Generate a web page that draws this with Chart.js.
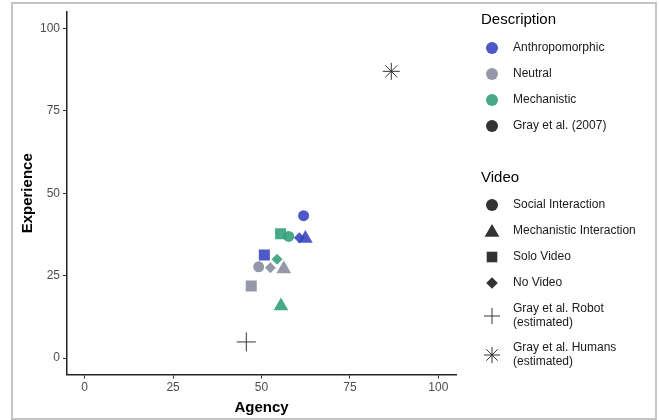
<!DOCTYPE html>
<html>
<head>
<meta charset="utf-8">
<script src="https://cdn.jsdelivr.net/npm/chart.js@4.4.1/dist/chart.umd.min.js"></script>
<style>
  body { margin: 0; background: #fff; }
  #frame { position: absolute; left: 11px; top: 2px; width: 642px; height: 414px; border: 2px solid #c4c4c4; }
  #wrap { position: absolute; left: 0; top: 0; width: 659px; height: 420px; }
</style>
</head>
<body>
<div id="frame"></div>
<div id="wrap"><canvas id="scatter"></canvas></div>
<script>
// data (Agency / Experience)
const videoTypes = ['Social Interaction', 'Mechanistic Interaction', 'Solo Video', 'No Video'];
const videoShapes = ['circle', 'triangle', 'rect', 'rectRot'];
const anthroAgency = [61.9, 62.4, 50.8, 60.7];
const anthroExperience = [43.2, 36.3, 31.3, 36.5];
const neutralAgency = [49.2, 56.3, 47.1, 52.5];
const neutralExperience = [27.7, 27.0, 21.9, 27.4];
const mechAgency = [57.7, 55.5, 55.4, 54.4];
const mechExperience = [36.9, 15.8, 37.7, 30.0];
const grayLabels = ['Gray et al. Robot (estimated)', 'Gray et al. Humans (estimated)'];
const grayAgency = [45.7, 86.7];
const grayExperience = [4.9, 87.0];
const tickValues = [0, 25, 50, 75, 100];

const descriptions = ['Anthropomorphic', 'Neutral', 'Mechanistic', 'Gray et al. (2007)'];
const colors = ['rgba(52, 66, 192, 0.88)', 'rgba(138, 144, 162, 0.92)', 'rgba(52, 160, 124, 0.9)', '#333333'];

const shapeRadius = { circle: 5.5, triangle: 8.5, rect: 7.8, rectRot: 5.5, cross: 9.5, star: 8.5 };

function points(xs, ys) {
  return xs.map((x, i) => ({ x: x, y: ys[i] }));
}

function videoDataset(label, xs, ys, color) {
  return {
    label: label,
    data: points(xs, ys),
    pointStyle: videoShapes,
    pointRadius: videoShapes.map(s => shapeRadius[s]),
    backgroundColor: color,
    borderColor: color,
    borderWidth: 0
  };
}

const ctx = document.getElementById('scatter').getContext('2d');

// draws the two legend blocks to the right of the plot
const sideLegend = {
  id: 'sideLegend',
  afterDraw(chart) {
    const c = chart.ctx;
    const markX = 492, textX = 513;
    c.save();
    c.textBaseline = 'middle';
    c.fillStyle = '#000';
    c.font = '15px "Liberation Sans", Arial, sans-serif';
    c.fillText('Description', 481, 20);
    c.fillText('Video', 481, 178);

    c.font = '12px "Liberation Sans", Arial, sans-serif';
    const descY = [48, 74, 100, 126];
    descriptions.forEach((d, i) => {
      c.fillStyle = colors[i];
      Chart.helpers.drawPoint(c, { pointStyle: 'circle', radius: 6, rotation: 0, borderWidth: 0 }, markX, descY[i]);
      c.fillStyle = '#1a1a1a';
      c.fillText(d, textX, descY[i]);
    });

    const vidY = [205, 231, 257, 283];
    videoTypes.forEach((v, i) => {
      const s = videoShapes[i];
      c.fillStyle = '#333';
      const r = { circle: 6, triangle: 8.5, rect: 7.5, rectRot: 5.8 }[s];
      Chart.helpers.drawPoint(c, { pointStyle: s, radius: r, rotation: 0, borderWidth: 0 }, markX, vidY[i] + (s === 'triangle' ? 1.5 : 0));
      c.fillStyle = '#1a1a1a';
      c.fillText(v, textX, vidY[i]);
    });

    const grayStyles = ['cross', 'star'];
    const grayY = [316, 355];
    grayLabels.forEach((g, i) => {
      c.strokeStyle = '#333';
      c.fillStyle = '#333';
      Chart.helpers.drawPoint(c, { pointStyle: grayStyles[i], radius: 8, rotation: 0, borderWidth: 1 }, markX, grayY[i]);
      const parts = g.split(' (');
      c.fillStyle = '#1a1a1a';
      c.fillText(parts[0], textX, grayY[i] - 7);
      c.fillText('(' + parts[1], textX, grayY[i] + 7);
    });
    c.restore();
  }
};

const axisFont = { family: '"Liberation Sans", Arial, sans-serif', size: 12 };
const titleFont = { family: '"Liberation Sans", Arial, sans-serif', size: 15, weight: 'bold' };

new Chart(ctx, {
  type: 'scatter',
  data: {
    datasets: [
      videoDataset(descriptions[0], anthroAgency, anthroExperience, colors[0]),
      videoDataset(descriptions[1], neutralAgency, neutralExperience, colors[1]),
      videoDataset(descriptions[2], mechAgency, mechExperience, colors[2]),
      {
        label: descriptions[3],
        data: points(grayAgency, grayExperience),
        pointStyle: ['cross', 'star'],
        pointRadius: [shapeRadius.cross, shapeRadius.star],
        backgroundColor: '#333',
        borderColor: '#333',
        borderWidth: 1
      }
    ]
  },
  options: {
    responsive: true,
    maintainAspectRatio: false,
    animation: false,
    layout: { padding: { left: 11, top: 12, right: 203, bottom: 3 } },
    plugins: {
      legend: { display: false },
      tooltip: { enabled: false }
    },
    scales: {
      x: {
        type: 'linear',
        min: -5,
        max: 105,
        afterBuildTicks: axis => { axis.ticks = tickValues.map(v => ({ value: v })); },
        border: { display: true, color: '#222', width: 1.5 },
        grid: { drawOnChartArea: false, drawTicks: true, tickLength: 4, color: '#333' },
        ticks: { color: '#4d4d4d', font: axisFont, padding: 2, maxRotation: 0 },
        title: { display: true, text: 'Agency', color: '#000', font: titleFont, padding: { top: 2, bottom: 0 } }
      },
      y: {
        type: 'linear',
        min: -5,
        max: 105,
        afterBuildTicks: axis => { axis.ticks = tickValues.map(v => ({ value: v })); },
        border: { display: true, color: '#222', width: 1.5 },
        grid: { drawOnChartArea: false, drawTicks: true, tickLength: 4, color: '#333' },
        ticks: { color: '#4d4d4d', font: axisFont, padding: 3 },
        title: { display: true, text: 'Experience', color: '#000', font: titleFont, padding: { top: 8, bottom: 0 } }
      }
    }
  },
  plugins: [sideLegend]
});
</script>
</body>
</html>
